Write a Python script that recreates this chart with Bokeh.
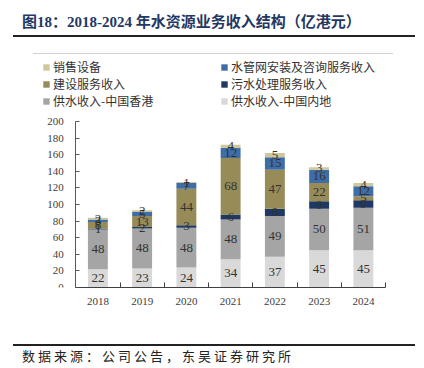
from bokeh.plotting import figure
from bokeh.models import Div, Legend, LegendItem, FixedTicker, ColumnDataSource, Range1d
from bokeh.layouts import column
from bokeh.embed import file_html
from bokeh.resources import INLINE
from bokeh.core.properties import value
import numpy as np

years = ["2018", "2019", "2020", "2021", "2022", "2023", "2024"]
# stacked bottom -> top
mainland = [22, 23, 24, 34, 37, 45, 45]       # 供水收入-中国内地
hongkong = [48, 48, 48, 48, 49, 50, 51]       # 供水收入-中国香港
sewage = [1, 2, 3, 6, 9, 9, 9]                # 污水处理服务收入
construction = [8, 13, 44, 68, 47, 22, 5]     # 建设服务收入
pipe = [3, 5, 7, 12, 15, 16, 12]              # 水管网安装及咨询服务收入
equipment = [2, 2, 1, 4, 5, 3, 4]             # 销售设备
yticks = [0, 20, 40, 60, 80, 100, 120, 140, 160, 180, 200]

series = [
    ("mainland", mainland, "供水收入-中国内地", "#D9D9D9"),
    ("hongkong", hongkong, "供水收入-中国香港", "#A5A5A5"),
    ("sewage", sewage, "污水处理服务收入", "#1F3864"),
    ("construction", construction, "建设服务收入", "#978B57"),
    ("pipe", pipe, "水管网安装及咨询服务收入", "#3F6DA5"),
    ("equipment", equipment, "销售设备", "#CFC79D"),
]

xs = [i + 0.5 for i in range(len(years))]
data = {"x": xs}
bottom = np.zeros(len(years))
for key, vals, _, _ in series:
    v = np.array(vals, dtype=float)
    data[key] = vals
    data[key + "_mid"] = list(bottom + v / 2)
    data[key + "_lbl"] = [str(int(t)) for t in vals]
    bottom = bottom + v
src = ColumnDataSource(data)

p = figure(width=424, height=282, output_backend="svg", toolbar_location=None,
           x_range=Range1d(-1, 7), y_range=Range1d(0, 278.3),
           min_border_left=31, min_border_right=39, min_border_top=0, min_border_bottom=51)
p.outline_line_color = None
p.grid.grid_line_color = None
p.background_fill_color = "white"
p.border_fill_color = "white"

keys = [s[0] for s in series]
colors = [s[3] for s in series]
rends = p.vbar_stack(keys, x="x", width=0.45, color=colors, line_color=None, source=src)

for key, vals, name, col in series:
    p.text(x="x", y=key + "_mid", text=key + "_lbl", source=src,
           text_align="center", text_baseline="middle",
           text_font=value("Liberation Serif"), text_font_size="13px", text_color="#333333")

rmap = {s[0]: r for s, r in zip(series, rends)}
names = {s[0]: s[2] for s in series}
order = ["equipment", "construction", "hongkong", "pipe", "sewage", "mainland"]
items = [LegendItem(label=names[k], renderers=[rmap[k]]) for k in order]
leg = Legend(items=items, ncols=2, location=(11, 178),
             glyph_width=8, glyph_height=8, label_standoff=3, label_width=167,
             label_height=15, spacing=0, padding=0, margin=0,
             label_text_font="Noto Sans CJK SC", label_text_font_size="12px",
             label_text_color="#333333", border_line_color=None, background_fill_alpha=0)
p.add_layout(leg, "center")

yax = p.yaxis[0]
yax.fixed_location = 0
yax.bounds = (0, 200)
yax.ticker = FixedTicker(ticks=yticks)
yax.major_tick_in = 4
yax.major_tick_out = 0
yax.minor_tick_line_color = None
yax.axis_line_color = "#595959"
yax.major_tick_line_color = "#595959"
yax.major_label_text_font = "Liberation Serif"
yax.major_label_text_font_size = "11px"
yax.major_label_text_color = "#404040"
yax.major_label_standoff = 12

xax = p.xaxis[0]
xax.bounds = (0, 7)
xax.ticker = FixedTicker(ticks=xs, minor_ticks=list(range(len(years) + 1)))
xax.major_label_overrides = {x: y for x, y in zip(xs, years)}
xax.major_tick_in = 0
xax.major_tick_out = 0
xax.minor_tick_in = 5
xax.minor_tick_out = 0
xax.minor_tick_line_color = "#404040"
xax.axis_line_color = "#404040"
xax.major_label_text_font = "Liberation Serif"
xax.major_label_text_font_size = "11px"
xax.major_label_text_color = "#404040"
xax.major_label_standoff = 10

title_html = (
    '<div style="position:relative;width:424px;height:56px;">'
    '<div style="position:absolute;left:22px;top:13px;font-family:\'Liberation Serif\',\'Noto Sans CJK SC\';'
    'font-weight:bold;font-size:15px;color:#1F3864;white-space:nowrap;line-height:18px;">'
    '图18：2018-2024 年水资源业务收入结构（亿港元）</div>'
    '<div style="position:absolute;left:13px;top:35px;width:402px;height:2px;background:#222;"></div>'
    '<div style="position:absolute;left:33px;top:53px;width:360px;height:1px;background:#D0D0D0;"></div>'
    '</div>'
)
title = Div(text=title_html, width=424, height=56, margin=(0, 0, 0, 0))

src_html = (
    '<div style="position:relative;width:424px;height:30px;">'
    '<div style="position:absolute;left:13px;top:6px;width:402px;height:2px;background:#222;"></div>'
    '<div style="position:absolute;left:22px;top:10px;font-family:\'Noto Sans CJK SC\';'
    'font-size:13px;letter-spacing:3px;color:#222;white-space:nowrap;line-height:15px;">'
    '数据来源：公司公告，东吴证券研究所</div>'
    '</div>'
)
source = Div(text=src_html, width=424, height=30, margin=(0, 0, 0, 0))
p.margin = (0, 0, 0, 0)

layout = column(title, p, source, spacing=0)
open("out.html", "w").write(file_html(layout, INLINE))
